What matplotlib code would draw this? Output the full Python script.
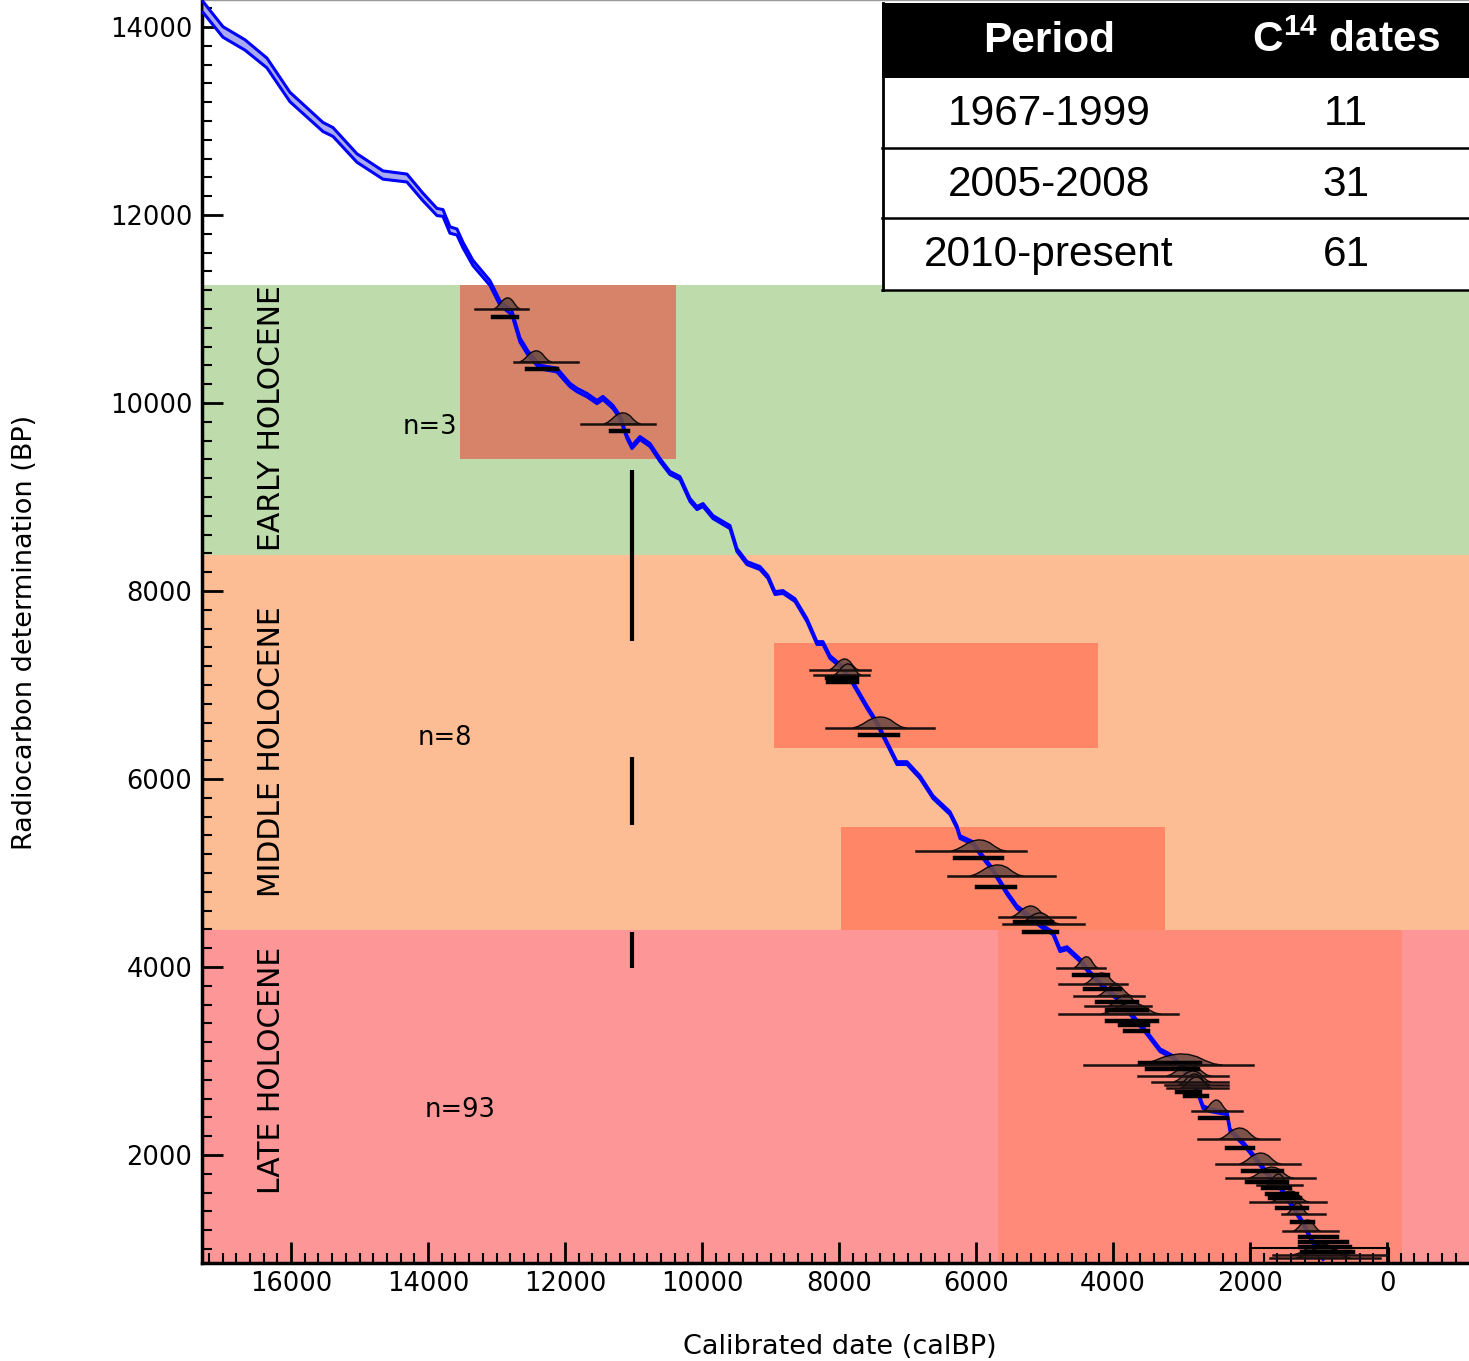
import numpy as np
import matplotlib
matplotlib.use('Agg')
import matplotlib.pyplot as plt
from matplotlib.patches import Rectangle, Polygon
from matplotlib.ticker import MultipleLocator

plt.rcParams['font.family'] = ['DejaVu Sans']
plt.rcParams['mathtext.fontset'] = 'custom'
plt.rcParams['mathtext.rm'] = 'Liberation Sans:bold'

# ---- calibration curve (calBP, radiocarbon BP, half-width of band) ----
curve_cal = [17286, 16994, 16673, 16352, 16016, 15534, 15388, 15038, 14658, 14308,
             14074, 13870, 13782, 13680, 13578, 13490, 13344, 13096, 12950, 12775,
             12658, 12541, 12366, 12118, 11928, 11826, 11680, 11534, 11446, 11300,
             11198, 11096, 11023, 10906, 10760, 10614, 10468, 10322, 10176, 10074,
             9986, 9840, 9592, 9490, 9344, 9154, 9037, 8935, 8818, 8643,
             8468, 8322, 8234, 8132, 7957, 7796, 7592, 7446, 7300, 7154,
             7008, 6818, 6628, 6380, 6278, 6234, 6044, 5942, 5752, 5548,
             5402, 5212, 5022, 4876, 4774, 4672, 4482, 4336, 4088, 3898,
             3752, 3504, 3314, 3124, 2920, 2774, 2686, 2584, 2336, 2292,
             2102, 1898, 1708, 1562, 1372, 1226, 1124, 1022, 934]
curve_bp = [14213, 13947, 13809, 13617, 13255, 12936, 12883, 12606, 12425, 12393,
            12191, 12032, 12021, 11840, 11819, 11680, 11489, 11276, 11063, 10957,
            10670, 10531, 10382, 10350, 10191, 10138, 10084, 10010, 10053, 9957,
            9850, 9638, 9531, 9627, 9553, 9393, 9255, 9201, 8968, 8882,
            8914, 8786, 8680, 8435, 8297, 8244, 8148, 7978, 7989, 7903,
            7690, 7446, 7446, 7297, 7190, 7020, 6765, 6595, 6382, 6169,
            6169, 6020, 5807, 5637, 5488, 5382, 5318, 5211, 5030, 4786,
            4637, 4530, 4424, 4360, 4179, 4200, 4073, 3935, 3754, 3647,
            3509, 3296, 3115, 3041, 2871, 2690, 2509, 2477, 2445, 2264,
            2126, 1945, 1764, 1658, 1445, 1275, 1126, 987, 902]
curve_err = [58, 56, 55, 52, 50, 48, 47, 45, 44, 42,
             40, 38, 36, 34, 32, 30, 28, 26, 24, 22,
             22, 22, 20, 20, 18, 18, 18, 17, 17, 17,
             16, 16, 16, 16, 16, 16, 16, 16, 16, 16,
             16, 16, 16, 16, 16, 16, 15, 15, 15, 15,
             15, 15, 15, 15, 15, 15, 15, 15, 15, 15,
             15, 15, 15, 15, 15, 15, 15, 15, 15, 15,
             15, 15, 15, 15, 15, 15, 15, 15, 15, 15,
             15, 15, 15, 15, 15, 15, 15, 15, 15, 15,
             15, 15, 15, 15, 15, 15, 15, 15, 15]

# ---- calibrated dates: BP value, older end, younger end, line kind ----
date_bp = [10999, 10914, 10436, 10361, 9776, 9701,
           7158, 7105, 7073, 7031, 6541, 6467, 5233, 5158, 4967, 4850,
           4530, 4456, 4477, 4371,
           3990, 3913, 3817, 3764, 3690, 3626, 3583, 3541, 3498, 3424,
           3381, 3317, 2977, 2956, 2913, 2838, 2775, 2743, 2711, 2668,
           2626, 2466, 2392, 2168, 2073, 1902, 1828, 1753, 1711, 1679,
           1647, 1583, 1540, 1498, 1434, 1370, 1285, 1189, 1126, 1072,
           1019, 966, 934, 902]
date_old = [13315, 13052, 12746, 12556, 11767, 11329,
            8424, 8366, 8176, 8161, 8190, 7694, 6876, 6307, 6409, 5986,
            5665, 5606, 5431, 5300,
            4820, 4570, 4789, 4409, 4570, 4234, 4409, 4088, 4789, 4088,
            3898, 3825, 3606, 4424, 3504, 3635, 3431, 3241, 3212, 3066,
            2949, 2847, 2730, 2759, 2336, 2496, 2102, 2350, 2044, 1898,
            1810, 1752, 1708, 2000, 1606, 1533, 1387, 1518, 1270, 1270,
            1270, 1241, 1664, 1708]
date_young = [12541, 12702, 11811, 12118, 10687, 11081,
              7548, 7563, 7738, 7738, 6614, 7139, 5270, 5621, 4847, 5431,
              4555, 4424, 4891, 4818,
              4120, 4073, 3796, 3898, 3548, 3650, 3445, 3504, 3051, 3358,
              3489, 3489, 2730, 1956, 2759, 2321, 2321, 2321, 2321, 2730,
              2628, 2117, 2336, 1577, 1956, 1270, 1533, 1051, 1460, 1241,
              1416, 1314, 1270, 890, 1168, 905, 1080, 715, 730, 584,
              540, 496, 0, 102]
date_kind = ['thin', 'thick', 'thin', 'thick', 'thin', 'thick',
             'thin', 'thin', 'thick', 'thick', 'thin', 'thick', 'thin', 'thick', 'thin', 'thick',
             'thin', 'thin', 'thick', 'thick',
             'thin', 'thick', 'thin', 'thick', 'thin', 'thick', 'thin', 'thick', 'thin', 'thick',
             'thick', 'thick', 'thick', 'thin', 'thick', 'thin', 'thin', 'thin', 'thin', 'thick',
             'thick', 'thin', 'thick', 'thin', 'thick', 'thin', 'thick', 'thin', 'thick', 'thin',
             'thick', 'thick', 'thick', 'thin', 'thick', 'thin', 'thick', 'thin', 'thick', 'thick',
             'thick', 'thick', 'thin', 'thin']

# modern bracket
bracket_cal = [2000, -30]
bracket_bp = 1008

# ---- period bands and sampling boxes ----
band_names = ['LATE HOLOCENE', 'MIDDLE HOLOCENE', 'EARLY HOLOCENE']
band_lo = [0, 4392, 8382]
band_hi = [4392, 8382, 11255]
band_colors = ['#fd9797', '#fdbd94', '#bedbab']
band_label_y = [2902, 6286, 9839]

box_old = [13534, 8950, 7971, 5679]
box_young = [10380, 4219, 3241, -219]
box_lo = [9403, 6328, 4392, 0]
box_hi = [11255, 7446, 5488, 4392]
box_colors = ['#d68369', '#ff8768', '#ff8768', '#ff8a7a']

n_labels = ['n=3', 'n=8', 'n=93']
n_cal = [13972, 13753, 13534]
n_bp = [9744, 6435, 2477]

gap_cal = 11023
gap_lo = [7467, 5509, 3987]
gap_hi = [9287, 6233, 4371]

# ---- table ----
table_header = ['Period', 'C$^{14}$ dates']
table_period = ['1967-1999', '2005-2008', '2010-present']
table_count = ['11', '31', '61']

W, H = 1469, 1361
fig = plt.figure(figsize=(W / 100, H / 100), dpi=100)
ax = fig.add_axes([202 / W, 1 - 1263 / H, 1 - 202 / W, 1263 / H])
ax.set_xlim(17300, -1197)
ax.set_ylim(851, 14287)

for lo, hi, c in zip(band_lo, band_hi, band_colors):
    ax.axhspan(lo, hi, color=c, lw=0, zorder=0)
for o, y, lo, hi, c in zip(box_old, box_young, box_lo, box_hi, box_colors):
    ax.add_patch(Rectangle((y, lo), o - y, hi - lo, color=c, lw=0, zorder=1))

for name, yc in zip(band_names, band_label_y):
    ax.text(16279, yc, name, rotation=90, ha='center', va='center', fontsize=21.5, zorder=5)
for t, xc, yc in zip(n_labels, n_cal, n_bp):
    ax.text(xc, yc, t, ha='center', va='center', fontsize=18.5, zorder=5)

for lo, hi in zip(gap_lo, gap_hi):
    ax.plot([gap_cal, gap_cal], [lo, hi], color='black', lw=3, solid_capstyle='butt', zorder=3)

cal = np.array(curve_cal)
bp = np.array(curve_bp)
err = np.array(curve_err)
ax.fill_between(cal, bp - err, bp + err, color='#a9aaf2', lw=0, zorder=3)
ax.plot(cal, bp + err, color='#0000ff', lw=2.2, zorder=4)
ax.plot(cal, bp - err, color='#0000ff', lw=2.2, zorder=4)

# hump template for probability distributions (shape only)
hx = np.array([-1, -0.8, -0.6, -0.4, -0.2, 0, 0.2, 0.4, 0.6, 0.8, 1])
hy = np.array([0, 0.12, 0.4, 0.75, 0.95, 1, 0.9, 0.7, 0.4, 0.15, 0])
order = np.argsort(bp)
for b, o, y, k in zip(date_bp, date_old, date_young, date_kind):
    if k == 'thin':
        xc = np.interp(b, bp[order], cal[order])
        half = 0.25 * (o - y)
        pts = np.column_stack([xc + hx * half, b + hy * 120])
        ax.add_patch(Polygon(pts, closed=True, facecolor='#6e4c44', edgecolor='black',
                             lw=1, alpha=0.9, zorder=5))
        ax.plot([o, y], [b, b], color='#1a1010', lw=1.8, zorder=6)
    else:
        ax.plot([o, y], [b, b], color='black', lw=3.2, zorder=6)
ax.plot([bracket_cal[0], bracket_cal[0], bracket_cal[1], bracket_cal[1]],
        [851, bracket_bp, bracket_bp, 851], color='black', lw=1.5, zorder=6)

ax.xaxis.set_major_locator(MultipleLocator(2000))
ax.xaxis.set_minor_locator(MultipleLocator(200))
ax.yaxis.set_major_locator(MultipleLocator(2000))
ax.yaxis.set_minor_locator(MultipleLocator(200))
ax.tick_params(which='major', direction='in', length=15, width=2, labelsize=18.5, pad=7)
ax.tick_params(which='minor', direction='in', length=7, width=1.5)
ax.tick_params(axis='x', pad=6)
for s in ['left', 'bottom']:
    ax.spines[s].set_linewidth(2.5)
ax.spines['right'].set_visible(False)
ax.spines['top'].set_color('#999999')
ax.spines['top'].set_linewidth(1)

fig.text(840 / W, 1 - 1347 / H, 'Calibrated date (calBP)', ha='center', va='center', fontsize=19.5)
fig.text(25 / W, 1 - 632 / H, 'Radiocarbon determination (BP)', ha='center', va='center',
         rotation=90, fontsize=19.5)

# table drawn in pixel units
tax = fig.add_axes([882 / W, 1 - 291 / H, (W - 882) / W, (291 - 3) / H])
tax.set_xlim(882, W)
tax.set_ylim(291, 3)
tax.axis('off')
tax.add_patch(Rectangle((882, 3), W - 882, 288, facecolor='white', lw=0))
tax.add_patch(Rectangle((882, 3), W - 882, 75, facecolor='black', lw=0))
for yl in [148, 218, 289.5]:
    tax.plot([882, W], [yl, yl], color='black', lw=1.8, clip_on=False)
tax.plot([883, 883], [3, 290], color='black', lw=2, clip_on=False)
tax.text(1049, 41, table_header[0], ha='center', va='center', color='white', fontsize=30.5,
         fontweight='bold', family='Liberation Sans')
tax.text(1346, 41, table_header[1], ha='center', va='center', color='white', fontsize=30.5,
         fontweight='bold', family='Liberation Sans')
for i, (p, c) in enumerate(zip(table_period, table_count)):
    yc = [114, 185, 255][i]
    tax.text(1049, yc, p, ha='center', va='center', fontsize=30.5, family='Liberation Sans')
    tax.text(1346, yc, c, ha='center', va='center', fontsize=30.5, family='Liberation Sans')

fig.savefig('out.png', dpi=100)
